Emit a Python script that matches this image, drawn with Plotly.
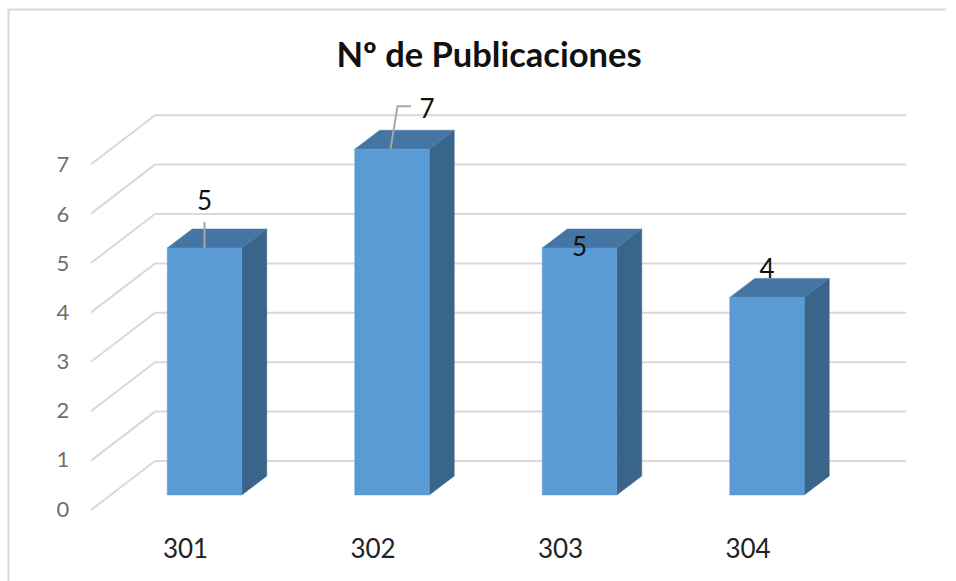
import plotly.graph_objects as go

categories = ["301", "302", "303", "304"]
values = [5, 7, 5, 4]
axis_ticks = [0, 1, 2, 3, 4, 5, 6, 7]

W, H = 956, 581
PX_X = 187.5   # pixels per category
PX_Y = 49.4    # pixels per value unit
X0, Y0 = 204.5, 495.0  # pixel of first category centre, value 0 on bar front plane
dx = lambda p: p / PX_X
dy = lambda p: p / PX_Y

HALF = dx(37.25)
DEPTH_X, DEPTH_Y = dx(25), dy(19)
BACK_X, BACK_Y = (155 - X0) / PX_X, dy(34)
FRONT_X, FRONT_Y = (91 - X0) / PX_X, dy(-15)
END_X = (906 - X0) / PX_X

GRID = "#d9d9d9"
FRONT, TOP, SIDE = "#5b9bd5", "#4575a2", "#3a658b"
FONT = "Lato, Carlito, Calibri, sans-serif"

fig = go.Figure()

for t in axis_ticks:
    fig.add_trace(go.Scatter(
        x=[FRONT_X, BACK_X, END_X],
        y=[t + FRONT_Y, t + BACK_Y, t + BACK_Y],
        mode="lines", line=dict(color=GRID, width=2), hoverinfo="skip", showlegend=False))

def face(xs, ys, color):
    fig.add_trace(go.Scatter(x=xs, y=ys, mode="lines", fill="toself", fillcolor=color,
                             line=dict(color=color, width=0.5), hoverinfo="skip", showlegend=False))

for i, v in enumerate(values):
    l, r = i - HALF, i + HALF
    face([r, r + DEPTH_X, r + DEPTH_X, r, r], [0, DEPTH_Y, v + DEPTH_Y, v, 0], SIDE)
    face([l, r, r + DEPTH_X, l + DEPTH_X, l], [v, v, v + DEPTH_Y, v + DEPTH_Y, v], TOP)
    face([l, r, r, l, l], [0, 0, v, v, 0], FRONT)

# leader lines for the first two data labels
LEADER = "#a6a6a6"
fig.add_trace(go.Scatter(x=[0, 0], y=[values[0], values[0] + dy(26)], mode="lines",
                         line=dict(color=LEADER, width=2), hoverinfo="skip", showlegend=False))
fig.add_trace(go.Scatter(x=[1 - dx(1.5), 1 + dx(5.5), 1 + dx(19)],
                         y=[values[1], values[1] + dy(43), values[1] + dy(43)], mode="lines",
                         line=dict(color=LEADER, width=2), hoverinfo="skip", showlegend=False))

# data labels
label_dx = [dx(0), dx(35), dx(0), dx(0)]
label_dy = [dy(44.5), dy(38), dy(-1), dy(26)]
fig.add_trace(go.Scatter(
    x=[i + d for i, d in enumerate(label_dx)],
    y=[v + d for v, d in zip(values, label_dy)],
    text=[str(v) for v in values], mode="text", textposition="middle center",
    textfont=dict(family=FONT, size=26, color="#111111"), hoverinfo="skip", showlegend=False))

# value-axis labels
fig.add_trace(go.Scatter(
    x=[(63 - X0) / PX_X] * len(axis_ticks),
    y=[t + dy(-16) - t * 0.005 for t in axis_ticks],
    text=[str(t) for t in axis_ticks], mode="text", textposition="middle center",
    textfont=dict(family=FONT, size=22, color="#6e6e6e"), hoverinfo="skip", showlegend=False))

# category labels
fig.add_trace(go.Scatter(
    x=[i - dx(19) for i in range(len(categories))],
    y=[dy(-56)] * len(categories),
    text=categories, mode="text", textposition="middle center",
    textfont=dict(family=FONT, size=26, color="#222222"), hoverinfo="skip", showlegend=False))

fig.update_layout(
    width=W, height=H, margin=dict(l=0, r=0, t=0, b=0),
    paper_bgcolor="white", plot_bgcolor="white", showlegend=False,
    title=dict(text="<b>Nº de Publicaciones</b>", x=489 / W, xanchor="center",
               y=1 - 55 / H, yanchor="middle",
               font=dict(family=FONT, size=34.5, color="#111111")),
    xaxis=dict(visible=False, range=[-X0 / PX_X, (W - X0) / PX_X], fixedrange=True),
    yaxis=dict(visible=False, range=[(Y0 - H) / PX_Y, Y0 / PX_Y], fixedrange=True),
    shapes=[dict(type="path", xref="paper", yref="paper",
                 path=f"M {8.5/W} 0 L {8.5/W} {1-9.5/H} L {946/W} {1-9.5/H}",
                 line=dict(color=GRID, width=2))],
)

fig.write_html("out.html", config=dict(displayModeBar=False),
               post_script="document.body.style.margin='0';document.body.style.overflow='hidden';")
